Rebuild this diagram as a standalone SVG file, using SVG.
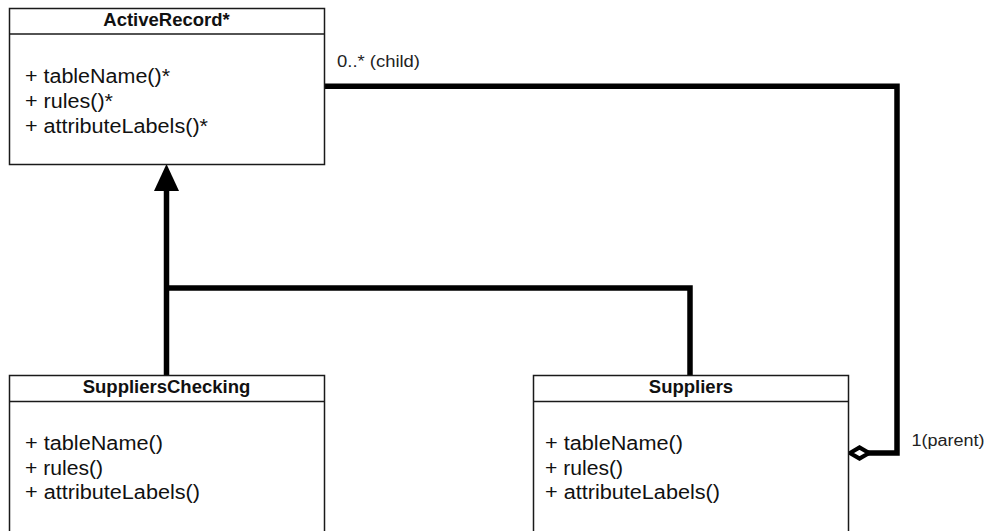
<svg xmlns="http://www.w3.org/2000/svg" width="989" height="531" viewBox="0 0 989 531">
  <style>
    .box { fill: #ffffff; stroke: #1a1a1a; stroke-width: 1.5; }
    .div { stroke: #1a1a1a; stroke-width: 1.5; fill: none; }
    .title { font-family: "Liberation Sans", Arial, sans-serif; font-weight: bold; font-size: 18.5px; fill: #111; text-anchor: middle; }
    .member { font-family: "Liberation Sans", Arial, sans-serif; font-size: 19.5px; fill: #111; }
    .lbl { font-family: "Liberation Sans", Arial, sans-serif; font-size: 16px; fill: #222; }
    .conn { fill: none; stroke: #000; stroke-width: 5.5; stroke-linejoin: miter; stroke-linecap: butt; }
  </style>
  <rect width="989" height="531" fill="#ffffff"/>

  <g id="connectors">
    <path class="conn" d="M166.5,375 L166.5,190"/>
    <path d="M166.5,164 L179,191 L154,191 Z" fill="#000"/>
    <path class="conn" d="M690,375 L690,288 L166.5,288"/>
    <path class="conn" d="M324,86.3 L897,86.3 L897,453 L868,453"/>
    <path d="M850,453 L859.5,447.5 L869,453 L859.5,458.5 Z" fill="#ffffff" stroke="#000" stroke-width="4.2" stroke-linejoin="miter"/>
    <text class="lbl" x="337" y="67" textLength="83" lengthAdjust="spacingAndGlyphs">0..* (child)</text>
    <text class="lbl" x="911.5" y="445.5" textLength="73" lengthAdjust="spacingAndGlyphs">1(parent)</text>
  </g>

  <g id="ActiveRecord">
    <rect class="box" x="9.5" y="8.5" width="315" height="156"/>
    <line class="div" x1="9.5" y1="34" x2="324.5" y2="34"/>
    <text class="title" x="166.5" y="26">ActiveRecord*</text>
    <text class="member" x="25" y="83" textLength="145" lengthAdjust="spacingAndGlyphs">+ tableName()*</text>
    <text class="member" x="25" y="108" textLength="88" lengthAdjust="spacingAndGlyphs">+ rules()*</text>
    <text class="member" x="25" y="132.5" textLength="183" lengthAdjust="spacingAndGlyphs">+ attributeLabels()*</text>
  </g>

  <g id="SuppliersChecking">
    <rect class="box" x="9.5" y="375.5" width="315" height="170"/>
    <line class="div" x1="9.5" y1="401.5" x2="324.5" y2="401.5"/>
    <text class="title" x="166.5" y="393">SuppliersChecking</text>
    <text class="member" x="25" y="449.5" textLength="138" lengthAdjust="spacingAndGlyphs">+ tableName()</text>
    <text class="member" x="25" y="474.5" textLength="78" lengthAdjust="spacingAndGlyphs">+ rules()</text>
    <text class="member" x="25" y="499" textLength="175" lengthAdjust="spacingAndGlyphs">+ attributeLabels()</text>
  </g>

  <g id="Suppliers">
    <rect class="box" x="533.5" y="375.5" width="315" height="170"/>
    <line class="div" x1="533.5" y1="401.5" x2="848.5" y2="401.5"/>
    <text class="title" x="691" y="393">Suppliers</text>
    <text class="member" x="545" y="449.5" textLength="138" lengthAdjust="spacingAndGlyphs">+ tableName()</text>
    <text class="member" x="545" y="474.5" textLength="78" lengthAdjust="spacingAndGlyphs">+ rules()</text>
    <text class="member" x="545" y="499" textLength="175" lengthAdjust="spacingAndGlyphs">+ attributeLabels()</text>
  </g>
</svg>
